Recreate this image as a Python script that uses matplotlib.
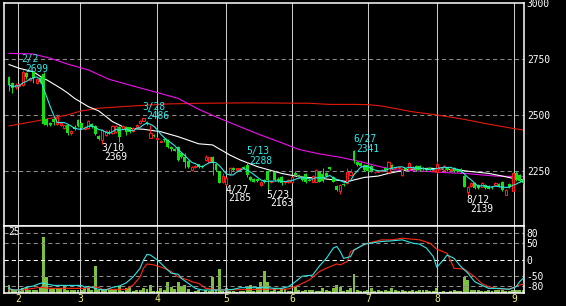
import numpy as np
import pandas as pd
import matplotlib
matplotlib.use("Agg")
import matplotlib.pyplot as plt

# ---------------- data ----------------
opens = [2668, 2640, 2622, 2628, 2633, 2685, 2656, 2689, 2640, 2662,
         2680, 2480, 2462, 2480, 2460, 2455, 2440, 2454, 2417, 2443,
         2476, 2462, 2435, 2440, 2458, 2450, 2405, 2388, 2410, 2424,
         2417, 2424, 2446, 2435, 2446, 2443, 2427, 2443, 2461, 2474,
         2468, 2398, 2410, 2390, 2380, 2392, 2387, 2357, 2345, 2357,
         2328, 2313, 2293, 2253, 2268, 2278, 2270, 2296, 2290, 2310,
         2278, 2247, 2200, 2190, 2235, 2262, 2255, 2258, 2265, 2275,
         2222, 2215, 2212, 2186, 2210, 2250, 2200, 2245, 2215, 2223,
         2198, 2200, 2200, 2241, 2231, 2217, 2235, 2210, 2201, 2201,
         2245, 2235, 2238, 2265, 2223, 2182, 2160, 2190, 2195, 2231,
         2340, 2290, 2285, 2275, 2275, 2270, 2242, 2246, 2250, 2262,
         2243, 2275, 2262, 2262, 2231, 2260, 2256, 2268, 2271, 2271,
         2262, 2258, 2262, 2250, 2243, 2258, 2253, 2262, 2252, 2262,
         2256, 2256, 2226, 2157, 2182, 2194, 2186, 2179, 2186, 2181,
         2176, 2186, 2190, 2201, 2142, 2190, 2161, 2238, 2230, 2210]
highs = [2672, 2645, 2640, 2640, 2699, 2692, 2668, 2692, 2665, 2670,
         2690, 2485, 2466, 2484, 2505, 2466, 2455, 2458, 2430, 2452,
         2480, 2466, 2448, 2476, 2462, 2454, 2410, 2435, 2432, 2430,
         2456, 2455, 2450, 2453, 2450, 2446, 2445, 2457, 2476, 2486,
         2472, 2454, 2414, 2400, 2386, 2396, 2392, 2360, 2350, 2362,
         2332, 2330, 2296, 2272, 2275, 2282, 2274, 2318, 2312, 2314,
         2282, 2250, 2238, 2220, 2266, 2266, 2262, 2264, 2270, 2288,
         2226, 2218, 2215, 2203, 2215, 2253, 2206, 2250, 2220, 2226,
         2206, 2212, 2226, 2248, 2234, 2222, 2238, 2214, 2230, 2256,
         2250, 2262, 2242, 2268, 2226, 2186, 2190, 2195, 2262, 2256,
         2341, 2294, 2288, 2280, 2278, 2274, 2248, 2252, 2256, 2265,
         2292, 2278, 2268, 2268, 2261, 2264, 2290, 2272, 2275, 2274,
         2266, 2262, 2266, 2256, 2293, 2268, 2275, 2266, 2260, 2265,
         2260, 2260, 2232, 2182, 2198, 2198, 2190, 2200, 2190, 2185,
         2180, 2198, 2194, 2205, 2168, 2194, 2245, 2248, 2236, 2214]
lows = [2604, 2595, 2615, 2622, 2630, 2660, 2650, 2643, 2636, 2640,
        2452, 2450, 2448, 2455, 2455, 2450, 2436, 2410, 2410, 2430,
        2445, 2436, 2430, 2436, 2440, 2410, 2388, 2369, 2405, 2413,
        2414, 2420, 2380, 2430, 2409, 2420, 2424, 2440, 2458, 2470,
        2455, 2395, 2402, 2386, 2376, 2380, 2352, 2340, 2336, 2294,
        2308, 2262, 2262, 2250, 2262, 2262, 2262, 2292, 2288, 2232,
        2248, 2193, 2196, 2185, 2232, 2250, 2250, 2254, 2256, 2220,
        2204, 2198, 2200, 2182, 2196, 2163, 2195, 2204, 2200, 2188,
        2192, 2196, 2196, 2228, 2216, 2206, 2196, 2202, 2198, 2198,
        2198, 2200, 2224, 2252, 2198, 2160, 2145, 2180, 2190, 2228,
        2285, 2270, 2266, 2250, 2246, 2246, 2238, 2242, 2246, 2250,
        2240, 2258, 2258, 2258, 2228, 2252, 2254, 2258, 2250, 2250,
        2252, 2250, 2254, 2246, 2240, 2255, 2250, 2250, 2248, 2246,
        2244, 2240, 2176, 2139, 2178, 2168, 2170, 2176, 2170, 2166,
        2168, 2183, 2178, 2160, 2140, 2172, 2158, 2205, 2200, 2192]
closes = [2633, 2618, 2633, 2635, 2690, 2667, 2665, 2662, 2660, 2645,
          2460, 2454, 2452, 2469, 2490, 2462, 2452, 2417, 2428, 2435,
          2450, 2440, 2445, 2472, 2445, 2414, 2393, 2430, 2428, 2417,
          2451, 2451, 2402, 2450, 2424, 2424, 2442, 2454, 2472, 2484,
          2460, 2418, 2405, 2397, 2383, 2386, 2357, 2345, 2340, 2298,
          2313, 2290, 2265, 2268, 2272, 2265, 2266, 2312, 2310, 2286,
          2253, 2197, 2225, 2216, 2263, 2254, 2260, 2262, 2260, 2230,
          2208, 2201, 2204, 2201, 2200, 2208, 2202, 2208, 2204, 2193,
          2202, 2208, 2223, 2231, 2220, 2210, 2201, 2206, 2226, 2253,
          2201, 2205, 2228, 2256, 2201, 2164, 2187, 2186, 2245, 2245,
          2298, 2275, 2270, 2253, 2250, 2250, 2245, 2249, 2253, 2254,
          2287, 2262, 2265, 2266, 2256, 2255, 2283, 2262, 2253, 2253,
          2256, 2255, 2258, 2253, 2280, 2265, 2271, 2253, 2256, 2250,
          2248, 2245, 2179, 2179, 2194, 2171, 2174, 2197, 2174, 2170,
          2172, 2195, 2182, 2164, 2164, 2175, 2238, 2210, 2204, 2195]
volume = [3.1, 1.5, 1.3, 0.8, 1.9, 2.2, 1.3, 1.3, 1.3, 2.5,
          21.0, 6.2, 1.5, 2.0, 2.0, 2.0, 2.6, 1.3, 1.3, 1.3,
          1.3, 1.3, 2.0, 2.0, 1.2, 10.2, 1.3, 1.5, 1.5, 1.2,
          1.5, 1.5, 2.6, 1.0, 1.9, 2.3, 1.0, 1.3, 1.3, 2.1,
          1.5, 3.1, 0.8, 1.0, 1.9, 1.3, 4.3, 2.2, 1.5, 4.3,
          2.3, 3.1, 1.5, 0.6, 1.0, 1.3, 0.5, 1.3, 1.0, 6.2,
          1.3, 8.9, 1.0, 1.9, 1.0, 0.8, 0.6, 0.8, 1.0, 1.9,
          3.1, 1.0, 2.5, 4.3, 8.1, 4.3, 1.0, 1.9, 0.8, 1.9,
          1.5, 0.8, 1.0, 2.2, 1.3, 0.8, 1.3, 1.3, 1.3, 0.8,
          1.0, 1.9, 1.3, 0.8, 1.9, 3.1, 2.2, 0.8, 1.3, 1.9,
          7.2, 1.3, 0.8, 1.0, 1.3, 1.9, 0.8, 1.3, 0.8, 1.3,
          1.0, 2.1, 1.3, 0.8, 1.3, 0.8, 1.0, 1.3, 0.8, 1.3,
          1.3, 1.3, 0.8, 0.8, 1.9, 0.6, 0.8, 0.6, 0.8, 1.3,
          0.8, 1.0, 6.2, 5.0, 1.3, 1.3, 1.3, 0.8, 0.8, 1.3,
          0.8, 1.3, 1.3, 1.3, 1.0, 0.8, 1.3, 1.3, 1.3, 1.3]

# medium moving average (white)
ma_mid_day = [0, 3, 7, 10, 11, 15, 17, 19, 23, 26, 30, 34, 39, 44, 49, 55, 59,
              64, 67, 72, 79, 84, 90, 96, 98, 103, 107, 110, 116, 122, 130,
              134, 139, 143, 146, 149]
ma_mid_val = [2724, 2707, 2692, 2662, 2655, 2618, 2597, 2573, 2536, 2517, 2469,
              2439, 2435, 2424, 2402, 2370, 2365, 2320, 2298, 2268, 2238, 2223,
              2216, 2206, 2201, 2220, 2226, 2238, 2256, 2261, 2253, 2246, 2238,
              2226, 2216, 2208]
# long moving average (magenta)
ma_long_day = [0, 7, 12, 17, 23, 29, 36, 42, 49, 55, 61, 67, 73, 79, 84, 90, 96,
               102, 107, 112, 117, 122, 127, 132, 137, 141, 149]
ma_long_val = [2774, 2771, 2752, 2726, 2700, 2658, 2628, 2603, 2573, 2524, 2484,
               2446, 2409, 2375, 2345, 2325, 2310, 2290, 2270, 2253, 2250, 2246,
               2241, 2238, 2231, 2226, 2223]
# very long moving average (red)
ma_vlong_day = [0, 7, 17, 21, 26, 36, 46, 55, 70, 87, 93, 100, 104, 108, 117,
                124, 132, 139, 146, 149]
ma_vlong_val = [2450, 2469, 2499, 2517, 2529, 2539, 2548, 2551, 2553, 2551, 2546,
                2546, 2545, 2539, 2513, 2499, 2479, 2458, 2439, 2432]

# oscillator (lower panel)
osc_fast_day = [0, 1, 3, 5, 7, 9, 10, 11, 13, 21, 22, 23, 26, 28, 30, 32, 34, 36,
                38, 39, 40, 41, 43, 45, 47, 49, 50, 52, 54, 56, 63, 65, 67, 75,
                77, 79, 81, 83, 85, 88, 90, 92, 94, 95, 96, 97, 99, 100, 103,
                106, 108, 111, 114, 117, 119, 121, 123, 124, 126, 127, 129, 131,
                133, 135, 137, 139, 142, 145, 147, 148, 149]
osc_fast_val = [-87, -92, -92, -84, -80, -72, -70, -74, -78, -78, -84, -81, -90,
                -92, -84, -80, -70, -52, -26, -1, 16, 14, -1, -21, -41, -44, -57,
                -72, -87, -92, -92, -90, -85, -85, -87, -87, -82, -67, -50, -47,
                -19, 4, 35, 40, 25, 4, 9, 29, 47, 52, 55, 57, 60, 50, 47, 35, 9,
                -23, 0, 14, 4, -21, -41, -67, -77, -87, -87, -90, -82, -67, -57]
osc_slow_day = [0, 3, 5, 9, 12, 22, 23, 26, 27, 34, 36, 38, 39, 40, 42, 45, 47,
                49, 52, 53, 55, 57, 61, 79, 81, 84, 87, 90, 92, 95, 96, 98, 99,
                102, 104, 108, 111, 114, 119, 122, 124, 127, 129, 132, 135, 137,
                139, 142, 145, 148, 149]
osc_slow_val = [-92, -92, -90, -84, -87, -87, -84, -84, -90, -90, -77, -52, -26,
                -13, -16, -26, -36, -52, -62, -67, -72, -87, -92, -89, -89, -77,
                -62, -36, -26, -13, -16, -6, 24, 40, 50, 60, 60, 65, 60, 50, 32,
                19, -26, -29, -52, -72, -82, -89, -89, -77, -74]

month_pos = [2.6, 20.6, 42.9, 62.9, 82.0, 104.1, 124.1, 146.4]
month_labels = ["2", "3", "4", "5", "6", "7", "8", "9"]
price_ticks = [2250, 2500, 2750, 3000]
osc_ticks = [-80, -50, 0, 50, 80]
osc_grid = [-80, -50, 50, 80]

mark_day = [4, 27, 39, 63, 69, 75, 100, 133]
mark_date = ["2/2", "3/10", "3/28", "4/27", "5/13", "5/23", "6/27", "8/12"]
mark_kind = ["high", "low", "high", "low", "high", "low", "high", "low"]

# ---------------- styling ----------------
BG = "black"
UP = "#ff1a1a"
DOWN = "#14e014"
VOLC = "#80c040"
CYAN = "#30e8e8"
MAG = "#ee10ee"
RLINE = "#e41a0a"
GRID = "#8c8c8c"
VLINE = "#c8c8c8"
FONT = "DejaVu Sans Mono"
FS = 6.9

W, H = 566, 306
fig = plt.figure(figsize=(W / 100, H / 100), dpi=100, facecolor=BG)

left = 4 / W
width = 520 / W
ax = fig.add_axes([left, 1 - 226 / H, width, (226 - 2.5) / H])
axv = fig.add_axes([left, 1 - 293.3 / H, width, (293.3 - 226) / H])
axo = fig.add_axes([left, 1 - 293.3 / H, width, (293.3 - 226) / H])

n = len(closes)
idx = np.arange(n)
o = np.array(opens, float)
h = np.array(highs, float)
l = np.array(lows, float)
c = np.array(closes, float)
xlim = (-1.45, 149.28)

# ---- main panel ----
ax.set_facecolor(BG)
ax.set_xlim(*xlim)
ax.set_ylim(2003, 3001)
for p in price_ticks[:-1]:
    ax.axhline(p, color=GRID, lw=0.75, dashes=(4, 3), zorder=1)
for m in month_pos:
    ax.axvline(m, color=VLINE, lw=0.75, zorder=1)

ax.plot(ma_vlong_day, ma_vlong_val, color=RLINE, lw=0.8, zorder=2)
ax.plot(ma_long_day, ma_long_val, color=MAG, lw=0.8, zorder=2)
ax.plot(ma_mid_day, ma_mid_val, color="white", lw=0.8, zorder=2)

up = c >= o
colors = np.where(up, UP, DOWN)
ax.vlines(idx, l, h, colors=colors, lw=0.75, zorder=3)
body_lo = np.minimum(o, c)
body_h = np.maximum(np.abs(c - o), 3.0)
ax.bar(idx[~up], body_h[~up], bottom=body_lo[~up], width=0.85,
       color=DOWN, edgecolor="none", zorder=4)
ax.bar(idx[up], body_h[up], bottom=body_lo[up], width=0.62,
       facecolor=BG, edgecolor=UP, linewidth=0.75, zorder=4)

ma5 = pd.Series(c).rolling(5, min_periods=1).mean()
ax.plot(idx, ma5, color=CYAN, lw=0.8, zorder=5)

for d, t, k in zip(mark_day, mark_date, mark_kind):
    if k == "high":
        val = h[d]
        col = CYAN
        ax.annotate(t, xy=(d, val), xytext=(-0.8, 5.8), textcoords="offset points",
                    ha="left", va="baseline", color=col, fontsize=FS, family=FONT, zorder=6)
        ax.annotate(f"{int(val)}", xy=(d, val), xytext=(1.6, -1.1), textcoords="offset points",
                    ha="left", va="baseline", color=col, fontsize=FS, family=FONT, zorder=6)
    else:
        val = l[d]
        col = "white"
        ax.annotate(t, xy=(d, val), xytext=(-0.8, -5.3), textcoords="offset points",
                    ha="left", va="baseline", color=col, fontsize=FS, family=FONT, zorder=6)
        ax.annotate(f"{int(val)}", xy=(d, val), xytext=(1.6, -11.7), textcoords="offset points",
                    ha="left", va="baseline", color=col, fontsize=FS, family=FONT, zorder=6)

ax.set_xticks([])
ax.yaxis.tick_right()
ax.set_yticks(price_ticks)
ax.set_yticklabels([str(p) for p in price_ticks], family=FONT, fontsize=FS, color="white")
ax.tick_params(axis="y", length=0, pad=2)
for s in ax.spines.values():
    s.set_color("white")
    s.set_linewidth(1.1)

# ---- lower panel: volume ----
axv.set_facecolor(BG)
axv.set_xlim(*xlim)
axv.set_ylim(0, 25)
axv.bar(idx, volume, width=0.85, color=VOLC, edgecolor="none", zorder=2)
axv.set_xticks([])
axv.set_yticks([])
for s in axv.spines.values():
    s.set_visible(False)
axv.text(0.008, 0.985, "25", transform=axv.transAxes, ha="left", va="top",
         color="white", fontsize=FS, family=FONT, zorder=5)

# ---- lower panel: oscillator ----
axo.patch.set_visible(False)
axo.set_xlim(*xlim)
axo.set_ylim(-102, 102)
for g in osc_grid:
    axo.axhline(g, color=GRID, lw=0.75, dashes=(4, 3), zorder=1)
axo.axhline(0, color="white", lw=0.75, dashes=(4, 3), zorder=1)
for m in month_pos:
    axo.axvline(m, color=VLINE, lw=0.75, zorder=1)
axo.plot(osc_slow_day, osc_slow_val, color="#ff2a10", lw=0.8, zorder=3)
axo.plot(osc_fast_day, osc_fast_val, color=CYAN, lw=0.8, zorder=4)
axo.yaxis.tick_right()
axo.set_yticks(osc_ticks)
axo.set_yticklabels([str(v) for v in osc_ticks], family=FONT, fontsize=FS, color="white")
axo.set_xticks(month_pos)
axo.set_xticklabels(month_labels, family=FONT, fontsize=FS, color="#f2f27a")
axo.tick_params(axis="both", length=0)
axo.tick_params(axis="y", pad=2)
axo.tick_params(axis="x", pad=0.3)
for s in axo.spines.values():
    s.set_color("white")
    s.set_linewidth(1.1)

fig.savefig("out.png", dpi=100, facecolor=BG)
